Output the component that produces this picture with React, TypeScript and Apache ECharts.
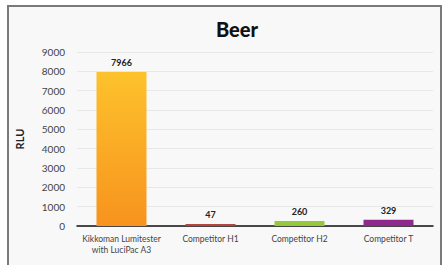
import React, { useEffect, useRef } from "react";
import * as echarts from "echarts";

const categories = ["Kikkoman Lumitester\nwith LuciPac A3", "Competitor H1", "Competitor H2", "Competitor T"];
const values = [7966, 47, 260, 329];
const yTicks = [0, 9000, 1000];

export default function App() {
  const ref = useRef<HTMLDivElement>(null);
  useEffect(() => {
    document.body.style.margin = "0";
    const chart = echarts.init(ref.current!, undefined, { renderer: "svg" });
    const colors: any[] = [
      new echarts.graphic.LinearGradient(0, 0, 0, 1, [
        { offset: 0, color: "#fdc22c" },
        { offset: 1, color: "#f7931e" },
      ]),
      "#b3453c",
      "#96c83c",
      "#8e2a8c",
    ];
    chart.setOption({
      animation: false,
      backgroundColor: "#ffffff",
      textStyle: { fontFamily: "Lato" },
      graphic: [
        {
          type: "rect",
          z: -10,
          shape: { x: 8, y: 6, width: 433, height: 275 },
          style: { fill: "#f8f8f8", stroke: "#7a7a7a", lineWidth: 2 },
        },
      ],
      title: {
        text: "Beer",
        left: 232,
        top: 14,
        textAlign: "center",
        textStyle: { fontFamily: "Lato", fontWeight: 900, fontSize: 20, color: "#111" },
      },
      grid: { left: 77, right: 15, top: 52, bottom: 39 },
      xAxis: {
        type: "category",
        data: categories,
        axisLine: { lineStyle: { color: "#111", width: 1.5 } },
        axisTick: { show: false },
        axisLabel: { fontSize: 8.5, color: "#444", lineHeight: 11, margin: 7, interval: 0 },
      },
      yAxis: {
        type: "value",
        min: yTicks[0],
        max: yTicks[1],
        interval: yTicks[2],
        name: "RLU",
        nameLocation: "middle",
        nameGap: 52,
        nameTextStyle: { fontWeight: "bold", fontSize: 11, color: "#222" },
        axisLine: { show: false },
        axisTick: { show: false },
        axisLabel: { fontSize: 10, color: "#444", margin: 12, formatter: (v: number) => String(v) },
        splitLine: { lineStyle: { color: "#e8e8e8" } },
      },
      series: [
        {
          type: "bar",
          barWidth: 50,
          barMinHeight: 2,
          data: values.map((v, i) => ({ value: v, itemStyle: { color: colors[i] } })),
          label: {
            show: true,
            position: "top",
            distance: 5,
            fontSize: 9,
            fontWeight: "bold",
            color: "#222",
          },
        },
      ],
    });
    return () => chart.dispose();
  }, []);
  return <div ref={ref} style={{ width: 448, height: 265 }} />;
}
